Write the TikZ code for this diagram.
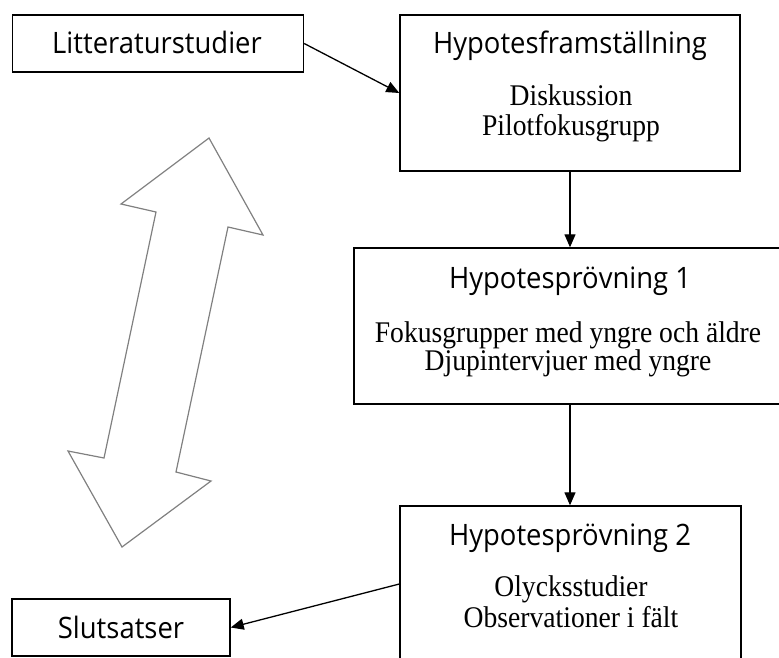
\documentclass[tikz,border=0pt]{standalone}
\usepackage{fontspec}
\setmainfont[FakeStretch=0.92]{Liberation Serif}
\newfontfamily\titlefont[FakeStretch=0.93]{Open Sans}
\usetikzlibrary{arrows.meta,calc}
\begin{document}
\begin{tikzpicture}[x=1pt,y=-1pt,
  box/.style={draw=black,line width=1.4pt,rectangle,inner sep=0pt},
  ttl/.style={font=\titlefont\fontsize{29.5}{32}\selectfont,anchor=base,inner sep=0pt},
  bodytext/.style={font=\fontsize{30}{32}\selectfont,anchor=base,inner sep=0pt},
  conn/.style={draw=black,line width=1.3pt,-{Triangle[length=13pt,width=11pt]}},
  bigarrow/.style={draw=black!50,line width=1.2pt,line join=miter}]
\useasboundingbox (0,0) rectangle (779,657);

% boxes
\node[box,minimum width=291pt,minimum height=57pt] (lit) at (158,43.5) {};
\node[box,minimum width=340pt,minimum height=156pt] (hf) at (570,93) {};
\node[box,minimum width=436pt,minimum height=156pt] (h1) at (572,326) {};
\node[box,minimum width=341pt,minimum height=156pt] (h2) at (570.5,584) {};
\node[box,minimum width=218pt,minimum height=57pt] (slut) at (121,627.5) {};

% texts
\node[ttl] (litT) at (157,53) {Litteraturstudier};
\node[ttl] (hfT) at (570,53) {Hypotesframställning};
\node[bodytext] (hfA) at (571,105) {Diskussion};
\node[bodytext] (hfB) at (571,135) {Pilotfokusgrupp};
\node[ttl] (h1T) at (570,288) {Hypotesprövning 1};
\node[bodytext] (h1A) at (568,342) {Fokusgrupper med yngre och äldre};
\node[bodytext] (h1B) at (568,370) {Djupintervjuer med yngre};
\node[ttl] (h2T) at (570,545) {Hypotesprövning 2};
\node[bodytext] (h2A) at (571,596) {Olycksstudier};
\node[bodytext] (h2B) at (571,627) {Observationer i fält};
\node[ttl] (slutT) at (121,638) {Slutsatser};

% connectors
\draw[conn] (lit.east) -- (hf.west);
\draw[conn] (hf.south) -- (hf.south |- h1.north);
\draw[conn] (hf.south |- h1.south) -- (hf.south |- h2.north);
\draw[conn] (h2.west) -- (slut.east);

% big double arrow
\draw[bigarrow] (209,138) -- (263,235) -- (228,227) -- (176,472) -- (211,481)
  -- (122,547) -- (68,451) -- (104,458) -- (156,212) -- (121,204) -- cycle;
\end{tikzpicture}
\end{document}
